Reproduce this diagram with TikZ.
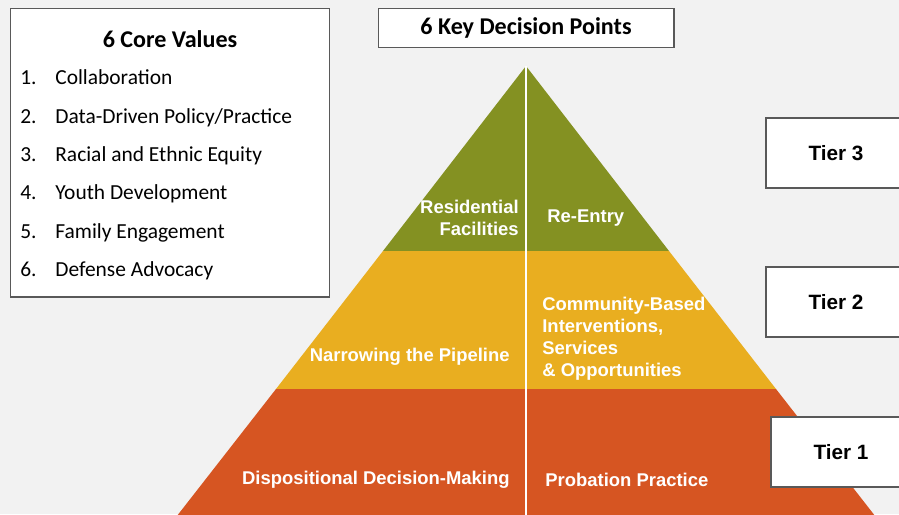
\documentclass[tikz,border=0pt]{standalone}
\usepackage{fontspec}
\setmainfont{Carlito}
\newfontfamily\arialfont{Liberation Sans}
\usetikzlibrary{positioning}

\definecolor{bggray}{RGB}{242,242,242}
\definecolor{tiergreen}{RGB}{132,145,34}
\definecolor{tieryellow}{RGB}{233,174,32}
\definecolor{tierorange}{RGB}{214,85,34}
\definecolor{boxline}{RGB}{89,89,89}

\begin{document}
\begin{tikzpicture}[x=0.02cm, y=-0.02cm,
	frame/.style = {draw=boxline, fill=white, line width=0.6pt},
	tier/.style = {frame, minimum width=2.8cm, minimum height=1.4cm, font=\arialfont\bfseries\fontsize{11.8}{14}\selectfont},
	level/.style = {text=white, inner sep=0pt, font=\arialfont\bfseries\fontsize{10.5}{12.6}\selectfont},
	item/.style = {anchor=base west, inner sep=0pt, font=\fontsize{12.2}{14}\selectfont}]
	\useasboundingbox[fill=bggray] (0,0) rectangle (899,514);

	%Corners of the pyramid
	\coordinate (apex) at (526,66);
	\coordinate (gl) at (383,251);
	\coordinate (gr) at (669,251);
	\coordinate (yl) at (276,389);
	\coordinate (yr) at (776,389);
	\coordinate (ol) at (166,530);
	\coordinate (or) at (886,530);
	\coordinate (base) at (526,530);

	%Three tiers of the pyramid
	\fill[tiergreen] (apex) -- (gr) -- (gl) -- cycle;
	\fill[tieryellow] (gl) -- (gr) -- (yr) -- (yl) -- cycle;
	\fill[tierorange] (yl) -- (yr) -- (or) -- (ol) -- cycle;
	\draw[white, line width=1.2pt] (apex) -- (base); %Split down the middle

	%Decision points
	\node[level, anchor=east, align=right] (resid) at (519,218) {Residential\\Facilities};
	\node[level, anchor=west] (reentry) at (547,218) {Re-Entry};
	\node[level, anchor=east] (narrow) at (510,357) {Narrowing the Pipeline};
	\node[level, anchor=west, align=left] (community) at (542,339) {Community-Based\\Interventions,\\Services\\\& Opportunities};
	\node[level, anchor=east] (dispo) at (510,480) {Dispositional Decision-Making};
	\node[level, anchor=west] (probation) at (545,480) {Probation Practice};

	%Tier boxes
	\node[tier] (t3) at (836,153) {Tier 3};
	\node[tier] (t2) at (836,302) {Tier 2};
	\node[tier] (t1) at (841,452) {Tier 1};

	%Heading above the pyramid
	\node[frame, minimum width=5.92cm, minimum height=0.78cm, text depth=0.5ex, font=\bfseries\fontsize{13.7}{16}\selectfont] (keypts) at (526,28) {6 Key Decision Points};

	%Core values list
	\node[frame, minimum width=6.4cm, minimum height=5.78cm] (core) at (170,152.5) {};
	\node[font=\bfseries\fontsize{13.7}{16}\selectfont] (coretitle) at (170,39) {6 Core Values};
	\foreach \i/\txt/\yy in {1/Collaboration/84, 2/Data-Driven Policy\slash Practice/123, 3/Racial and Ethnic Equity/161, 4/Youth Development/199, 5/Family Engagement/238, 6/Defense Advocacy/276} {
		\node[item] (num\i) at (20,\yy) {\i.};
		\node[item] (val\i) at (55,\yy) {\txt};
	}
\end{tikzpicture}
\end{document}
